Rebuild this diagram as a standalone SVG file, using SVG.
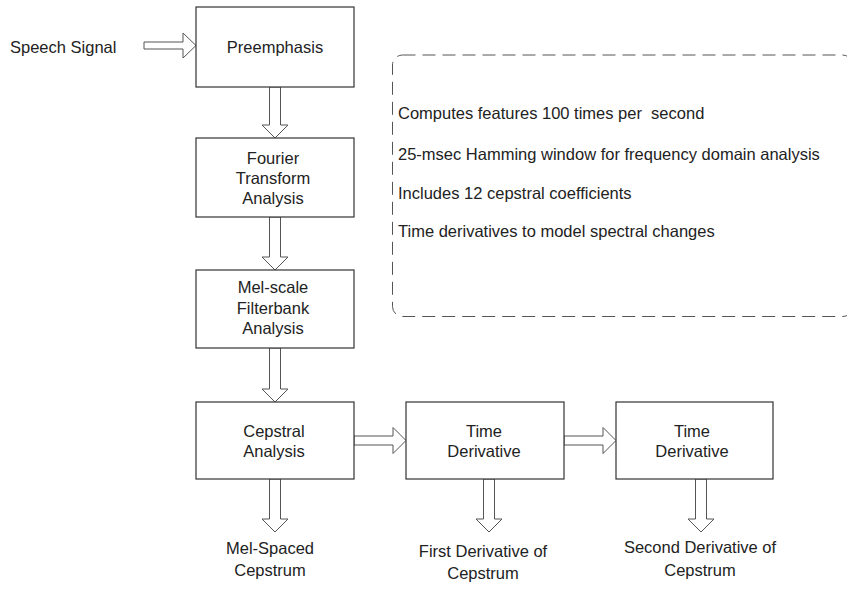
<svg xmlns="http://www.w3.org/2000/svg" width="847" height="606" viewBox="0 0 847 606">
<style>
text{font-family:"Liberation Sans",Arial,sans-serif;font-size:16.5px;fill:#222;white-space:pre}
.c{text-anchor:middle}
.box{fill:#fff;stroke:#333;stroke-width:1.2}
.arr{fill:#fff;stroke:#555;stroke-width:1}
.dash{fill:none;stroke:#555;stroke-width:1;stroke-dasharray:13 7}
</style>
<rect width="847" height="606" fill="#fff"/>
<g id="connectors">
<polygon class="arr" points="144,42 183,42 183,33 196,45.5 183,58 183,49 144,49"/>
<polygon class="arr" points="269.5,87 280.5,87 280.5,125 288,125 275,138 262,125 269.5,125"/>
<polygon class="arr" points="269.5,217 280.5,217 280.5,257 288,257 275,270 262,257 269.5,257"/>
<polygon class="arr" points="269.5,348 280.5,348 280.5,389 288,389 275,402 262,389 269.5,389"/>
<polygon class="arr" points="354,436 393,436 393,427.5 406,440.5 393,453.5 393,445 354,445"/>
<polygon class="arr" points="564,436 603,436 603,427.5 616,440.5 603,453.5 603,445 564,445"/>
<polygon class="arr" points="269.5,479 280.5,479 280.5,519 288,519 275,532 262,519 269.5,519"/>
<polygon class="arr" points="483.5,479 494.5,479 494.5,519 502,519 489,532 476,519 483.5,519"/>
<polygon class="arr" points="695.5,479 706.5,479 706.5,519 714,519 701,532 688,519 695.5,519"/>
</g>
<g id="speech-signal"><text x="10" y="53">Speech Signal</text></g>
<g id="preemphasis"><rect class="box" x="196" y="7" width="158" height="80"/><text class="c" x="275" y="53">Preemphasis</text></g>
<g id="fourier"><rect class="box" x="196" y="138" width="158" height="79"/><text class="c" x="273" y="163.5">Fourier</text><text class="c" x="273" y="183.5">Transform</text><text class="c" x="273" y="203.5">Analysis</text></g>
<g id="melscale"><rect class="box" x="196" y="270" width="158" height="78"/><text class="c" x="273" y="293">Mel-scale</text><text class="c" x="273" y="313.5">Filterbank</text><text class="c" x="273" y="334">Analysis</text></g>
<g id="cepstral"><rect class="box" x="196" y="402" width="158" height="77"/><text class="c" x="274" y="436.5">Cepstral</text><text class="c" x="274" y="457">Analysis</text></g>
<g id="timederiv1"><rect class="box" x="406" y="402" width="158" height="77"/><text class="c" x="484" y="436.5">Time</text><text class="c" x="484" y="457">Derivative</text></g>
<g id="timederiv2"><rect class="box" x="616" y="402" width="157" height="77"/><text class="c" x="692" y="436.5">Time</text><text class="c" x="692" y="457">Derivative</text></g>
<g id="out-mel"><text class="c" x="270" y="554">Mel-Spaced</text><text class="c" x="270" y="576">Cepstrum</text></g>
<g id="out-first"><text class="c" x="483" y="557">First Derivative of</text><text class="c" x="483" y="579">Cepstrum</text></g>
<g id="out-second"><text class="c" x="700" y="553">Second Derivative of</text><text class="c" x="700" y="576">Cepstrum</text></g>
<g id="notes">
<rect class="dash" x="392.5" y="55" width="460" height="261.5" rx="10"/>
<text x="398" y="119">Computes features 100 times per&#160; second</text>
<text x="398" y="160">25-msec Hamming window for frequency domain analysis</text>
<text x="398" y="199">Includes 12 cepstral coefficients</text>
<text x="398" y="237">Time derivatives to model spectral changes</text>
</g>
</svg>
